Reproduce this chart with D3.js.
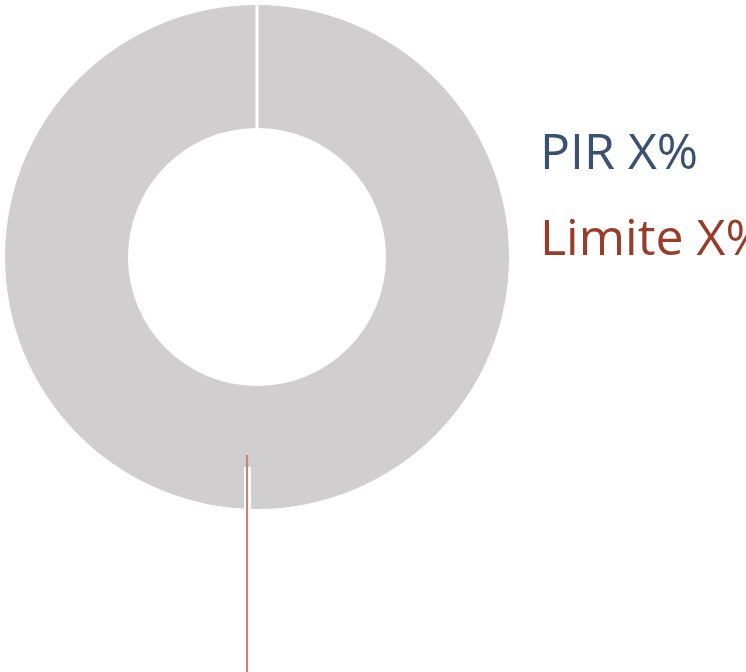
<!DOCTYPE html>
<html><head><meta charset="utf-8">
<script src="https://cdn.jsdelivr.net/npm/d3@7"></script>
<style>html,body{margin:0;padding:0;background:#fff;overflow:hidden}</style>
</head><body>
<script>
// Data
const categories = ["PIR", "Limite"];
const sliceValues = [100];          // single full ring (value unknown, shown as X%)
const labels = ["PIR X%", "Limite X%"];
const limitPct = [50.6];            // position of limit marker on ring (percent of full circle)

const W = 746, H = 672;
const cx = 257, cy = 257, rOuter = 252, rInner = 129;

const svg = d3.select("body").append("svg").attr("width", W).attr("height", H);
const g = svg.append("g").attr("transform", `translate(${cx},${cy})`);

const pie = d3.pie().sort(null).value(d => d);
const arc = d3.arc().innerRadius(rInner).outerRadius(rOuter);

g.selectAll("path.slice").data(pie(sliceValues)).join("path")
  .attr("class", "slice")
  .attr("d", arc)
  .attr("fill", "#d0cecf");

// white separator at start angle (top)
const angScale = d3.scaleLinear().domain([0, 100]).range([0, 2 * Math.PI]);
g.append("line")
  .attr("x1", 0).attr("x2", 0)
  .attr("y1", -rInner + 1).attr("y2", -rOuter - 1)
  .attr("stroke", "#fff").attr("stroke-width", 3);

// limit marker
const a = angScale(limitPct[0]);
const mx = rOuter * Math.sin(a);
g.append("rect")
  .attr("x", mx - 3.5).attr("width", 7)
  .attr("y", 210).attr("height", rOuter - 208)
  .attr("fill", "#fff");
g.append("line")
  .attr("x1", mx - 0.5).attr("x2", mx - 0.5)
  .attr("y1", 198).attr("y2", H - cy)
  .attr("stroke", "#c48679").attr("stroke-width", 2.2);

// labels
const colors = ["#3a5170", "#983d2a"];
svg.selectAll("text.lbl").data(labels).join("text")
  .attr("class", "lbl")
  .attr("x", 540)
  .attr("y", (d, i) => 169 + i * 86)
  .attr("fill", (d, i) => colors[i])
  .style("font-family", "'Open Sans', sans-serif")
  .style("font-size", "50px")
  .text(d => d);
</script>
</body></html>
